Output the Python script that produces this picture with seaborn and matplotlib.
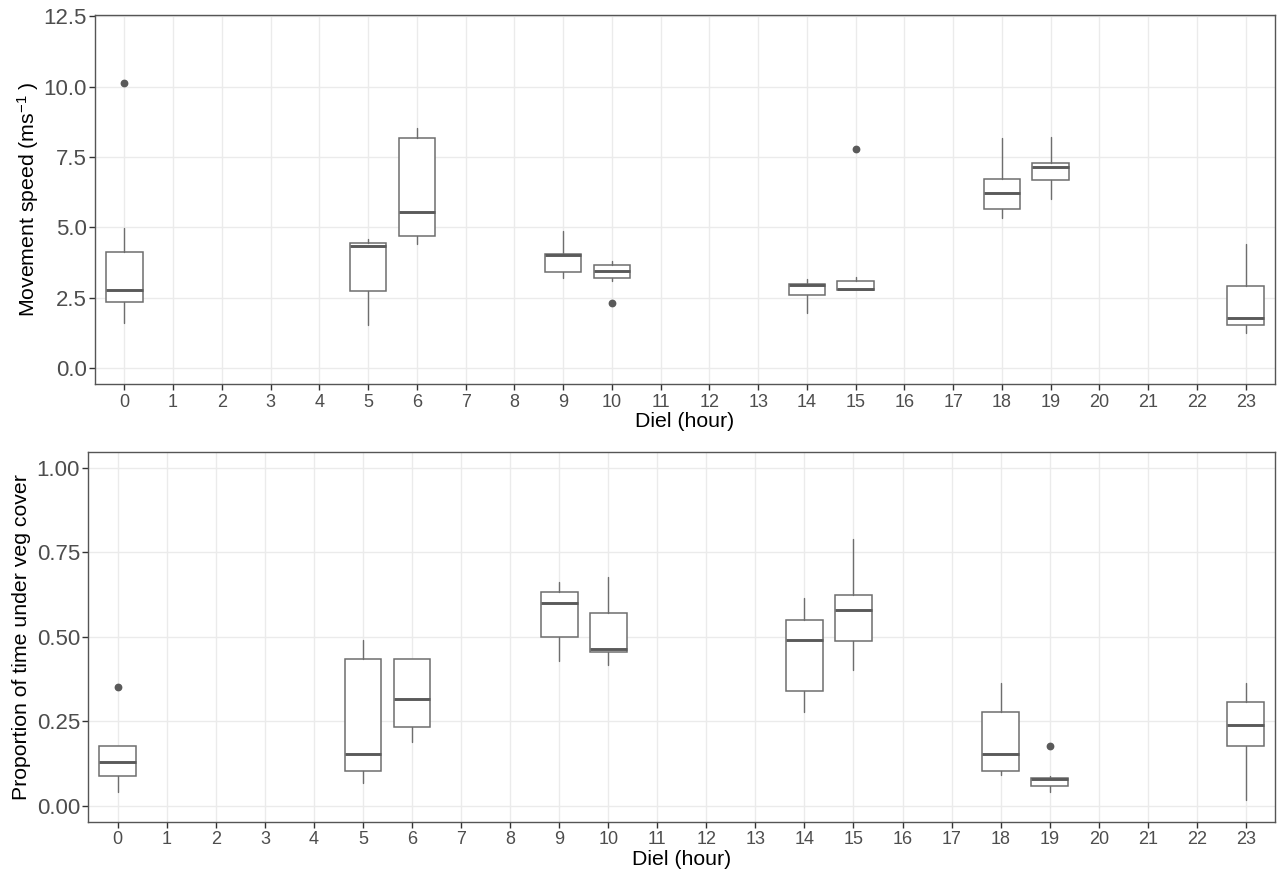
import matplotlib
matplotlib.use("Agg")
import matplotlib.pyplot as plt
import seaborn as sns

# Hours on the diel axis (all 24 shown as categories)
hour_labels = [str(h) for h in range(24)]
sampled_hours = [0, 5, 6, 9, 10, 14, 15, 18, 19, 23]

# Movement speed (m/s): whisker ends, quartiles, median, outliers
speed_low = [1.62, 1.54, 4.40, 3.19, 3.11, 1.95, 2.78, 5.35, 6.00, 1.24]
speed_q1 = [2.35, 2.74, 4.70, 3.41, 3.22, 2.59, 2.78, 5.67, 6.68, 1.54]
speed_med = [2.76, 4.35, 5.54, 4.02, 3.46, 2.96, 2.80, 6.23, 7.14, 1.80]
speed_q3 = [4.14, 4.46, 8.16, 4.06, 3.67, 2.99, 3.09, 6.72, 7.30, 2.91]
speed_high = [4.97, 4.58, 8.52, 4.87, 3.79, 3.18, 3.23, 8.19, 8.22, 4.40]
speed_out = [[10.12], [], [], [], [2.31], [], [7.77], [], [], []]

# Proportion of time under vegetation cover
cover_low = [0.041, 0.068, 0.190, 0.429, 0.415, 0.278, 0.403, 0.090, 0.041, 0.017]
cover_q1 = [0.088, 0.102, 0.232, 0.500, 0.456, 0.338, 0.488, 0.102, 0.059, 0.177]
cover_med = [0.129, 0.153, 0.315, 0.600, 0.464, 0.490, 0.578, 0.153, 0.078, 0.240]
cover_q3 = [0.177, 0.433, 0.433, 0.631, 0.569, 0.550, 0.624, 0.277, 0.081, 0.306]
cover_high = [0.177, 0.490, 0.435, 0.662, 0.676, 0.613, 0.789, 0.362, 0.088, 0.362]
cover_out = [[0.352], [], [], [], [], [], [], [], [0.177], []]

speed_ticks = [0.0, 2.5, 5.0, 7.5, 10.0, 12.5]
cover_ticks = [0.00, 0.25, 0.50, 0.75, 1.00]

sns.set_theme(style="whitegrid")
plt.rcParams["font.family"] = ["Liberation Sans", "DejaVu Sans"]
plt.rcParams["mathtext.fontset"] = "custom"
plt.rcParams["mathtext.rm"] = "Liberation Sans"
plt.rcParams["mathtext.it"] = "Liberation Sans"

GRID = "#EBEBEB"
FRAME = "#555555"
TICKTXT = "#4D4D4D"
BOXC = "#6E6E6E"
MEDC = "#5A5A5A"


def stats_list(low, q1, med, q3, high, out):
    return [
        dict(whislo=a, q1=b, med=c, q3=d, whishi=e, fliers=f)
        for a, b, c, d, e, f in zip(low, q1, med, q3, high, out)
    ]


def draw_panel(ax, stats, ylim, yticks, yfmt, ylabel, ylabelpad):
    ax.set_facecolor("white")
    ax.bxp(
        stats,
        positions=sampled_hours,
        widths=0.75,
        showcaps=False,
        patch_artist=True,
        boxprops=dict(facecolor="white", edgecolor=BOXC, linewidth=1.1),
        medianprops=dict(color=MEDC, linewidth=2.1, solid_capstyle="butt"),
        whiskerprops=dict(color=BOXC, linewidth=1.0),
        flierprops=dict(marker="o", markerfacecolor=MEDC, markeredgecolor=MEDC,
                        markersize=4.6),
        zorder=3,
    )
    ax.set_xlim(-0.6, 23.6)
    ax.set_ylim(*ylim)
    ax.set_xticks(range(24))
    ax.set_xticklabels(hour_labels)
    ax.set_yticks(yticks)
    ax.set_yticklabels([yfmt.format(v) for v in yticks])
    ax.grid(True, color=GRID, linewidth=1.0)
    ax.set_axisbelow(True)
    for sp in ax.spines.values():
        sp.set_visible(True)
        sp.set_color(FRAME)
        sp.set_linewidth(1.0)
    ax.tick_params(axis="x", length=4, width=1.0, color="#333333",
                   labelsize=13, labelcolor=TICKTXT, pad=3, bottom=True)
    ax.tick_params(axis="y", length=4, width=1.0, color="#333333",
                   labelsize=16, labelcolor=TICKTXT, pad=2, left=True)
    ax.set_xlabel("Diel (hour)", fontsize=15.3, color="black", labelpad=1)
    ax.set_ylabel(ylabel, fontsize=15.3, color="black", labelpad=ylabelpad)


fig = plt.figure(figsize=(12.77, 8.74), dpi=100)
fig.patch.set_facecolor("white")

ax_top = fig.add_axes([95 / 1277, (874 - 384.3) / 874, (1275 - 95) / 1277, (384.3 - 14.7) / 874])
ax_bot = fig.add_axes([88.3 / 1277, (874 - 821.7) / 874, (1275.3 - 88.3) / 1277, (821.7 - 451.7) / 874])

draw_panel(
    ax_top,
    stats_list(speed_low, speed_q1, speed_med, speed_q3, speed_high, speed_out),
    (-0.57, 12.55), speed_ticks, "{:.1f}",
    "Movement speed (ms$^{\\mathregular{-1}}$ )", 2,
)
draw_panel(
    ax_bot,
    stats_list(cover_low, cover_q1, cover_med, cover_q3, cover_high, cover_out),
    (-0.047, 1.047), cover_ticks, "{:.2f}",
    "Proportion of time under veg cover", 4,
)

fig.savefig("out.png", dpi=100, facecolor="white")
